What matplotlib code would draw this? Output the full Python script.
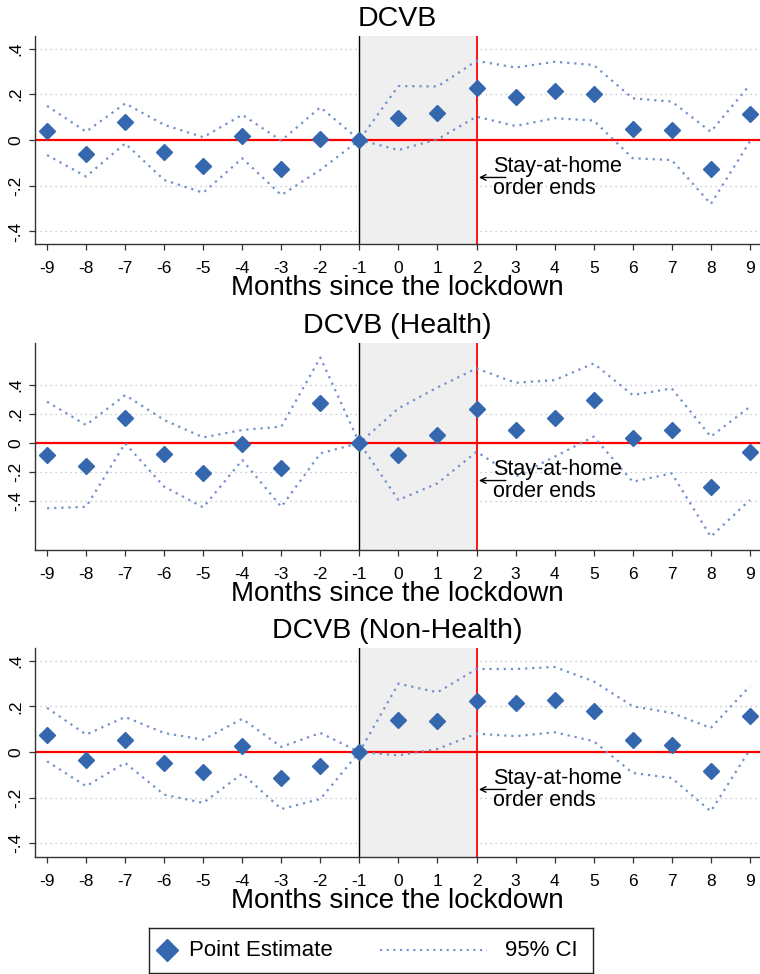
import matplotlib
matplotlib.use('Agg')
import matplotlib.pyplot as plt
import matplotlib.transforms as mtransforms

plt.rcParams['font.family'] = ['Liberation Sans', 'DejaVu Sans']

months = list(range(-9, 10))

# DCVB
est_all = [0.04, -0.063, 0.077, -0.054, -0.112, 0.016, -0.127, 0.006, 0.0, 0.098,
           0.117, 0.226, 0.19, 0.216, 0.201, 0.048, 0.042, -0.128, 0.112]
hi_all = [0.149, 0.036, 0.16, 0.066, 0.012, 0.11, -0.003, 0.143, 0.0, 0.236,
          0.234, 0.346, 0.317, 0.342, 0.328, 0.182, 0.168, 0.036, 0.241]
lo_all = [-0.066, -0.16, -0.015, -0.175, -0.231, -0.08, -0.241, -0.131, 0.0, -0.044,
          0.003, 0.102, 0.061, 0.095, 0.085, -0.08, -0.088, -0.28, -0.007]

# DCVB (Health)
est_health = [-0.083, -0.156, 0.175, -0.076, -0.205, -0.009, -0.17, 0.274, 0.0, -0.083,
              0.055, 0.234, 0.09, 0.17, 0.297, 0.034, 0.09, -0.306, -0.06]
hi_health = [0.285, 0.124, 0.331, 0.159, 0.039, 0.09, 0.113, 0.59, 0.0, 0.239,
             0.384, 0.515, 0.416, 0.434, 0.549, 0.331, 0.377, 0.044, 0.25]
lo_health = [-0.45, -0.44, -0.002, -0.301, -0.444, -0.117, -0.44, -0.071, 0.0, -0.393,
             -0.278, -0.06, -0.232, -0.094, 0.044, -0.267, -0.209, -0.646, -0.393]

# DCVB (Non-Health)
est_non = [0.072, -0.036, 0.054, -0.048, -0.089, 0.025, -0.114, -0.06, 0.0, 0.142,
           0.134, 0.225, 0.215, 0.229, 0.181, 0.054, 0.032, -0.085, 0.156]
hi_non = [0.193, 0.076, 0.153, 0.083, 0.054, 0.145, 0.022, 0.083, 0.0, 0.299,
          0.261, 0.363, 0.363, 0.372, 0.309, 0.2, 0.171, 0.105, 0.288]
lo_non = [-0.041, -0.15, -0.048, -0.187, -0.223, -0.095, -0.25, -0.206, 0.0, -0.015,
          0.013, 0.08, 0.069, 0.086, 0.047, -0.092, -0.114, -0.26, 0.01]

titles = ['DCVB', 'DCVB (Health)', 'DCVB (Non-Health)']
yticks = [-0.4, -0.2, 0, 0.2, 0.4]
ytick_labels = ['-.4', '-.2', '0', '.2', '.4']
lockdown_start = -1
order_end = 2

blue = '#3567ae'
ci_blue = '#7191c9'

fig = plt.figure(figsize=(7.6, 9.74), dpi=100)

panels = [
    (est_all, hi_all, lo_all, [0.046, 0.7495, 0.954, 0.2136], (-0.455, 0.455)),
    (est_health, hi_health, lo_health, [0.046, 0.4353, 0.954, 0.2125], (-0.738, 0.69)),
    (est_non, hi_non, lo_non, [0.046, 0.1201, 0.954, 0.2146], (-0.46, 0.455)),
]

for (est, hi, lo, rect, ylim), title in zip(panels, titles):
    ax = fig.add_axes(rect)
    ax.set_xlim(-9.31, 9.26)
    ax.set_ylim(*ylim)

    for y in yticks:
        if y != 0:
            ax.axhline(y, color='#b8bcc6', lw=0.9, ls=(0, (1, 3)), zorder=0)
    ax.axvspan(lockdown_start, order_end, color='#efefef', lw=0, zorder=1)
    ax.axhline(0, color='#ff0000', lw=1.6, zorder=2)
    ax.axvline(lockdown_start, color='black', lw=1.0, zorder=2)
    ax.axvline(order_end, color='#ff0000', lw=1.3, zorder=2)

    ax.plot(months, hi, color=ci_blue, lw=1.6, ls=(0, (1, 2.2)), zorder=3)
    ax.plot(months, lo, color=ci_blue, lw=1.6, ls=(0, (1, 2.2)), zorder=3)
    ax.plot(months, est, ls='none', marker='D', ms=8.6, color=blue,
            mec=blue, zorder=4)

    ax.set_xticks(months)
    ax.set_xticklabels([str(m) for m in months], fontsize=12.5)
    ax.set_yticks(yticks)
    ax.set_yticklabels(ytick_labels, fontsize=12.5, rotation=90, va='center')
    ax.tick_params(axis='both', length=4.5, width=0.9, color='#333333')
    ax.tick_params(axis='x', pad=8)
    ax.tick_params(axis='y', pad=4)
    for side in ['top', 'right']:
        ax.spines[side].set_visible(False)
    for side in ['left', 'bottom']:
        ax.spines[side].set_linewidth(1.0)
        ax.spines[side].set_color('#333333')

    ax.set_title(title, fontsize=20.5, pad=7)
    ax.set_xlabel('Months since the lockdown', fontsize=20, labelpad=-1)

    # annotation for the end of the stay-at-home order
    off1 = mtransforms.offset_copy(ax.transData, fig=fig, y=-22.8, units='points')
    off2 = mtransforms.offset_copy(ax.transData, fig=fig, y=-38.6, units='points')
    offa = mtransforms.offset_copy(ax.transData, fig=fig, y=-27.0, units='points')
    ax.text(2.42, 0, 'Stay-at-home', transform=off1, fontsize=15.5, va='baseline', zorder=5)
    ax.text(2.42, 0, 'order ends', transform=off2, fontsize=15.5, va='baseline', zorder=5)
    ax.annotate('', xy=(2.06, 0), xycoords=offa, xytext=(2.75, 0), textcoords=offa,
                arrowprops=dict(arrowstyle='->', lw=1.0, color='black',
                                shrinkA=0, shrinkB=0), zorder=5)

# legend box drawn as its own small axes
lax = fig.add_axes([149 / 760, 0.0015, 444 / 760, 0.0455])
lax.set_xlim(0, 444)
lax.set_ylim(0, 1)
lax.set_xticks([])
lax.set_yticks([])
for s in lax.spines.values():
    s.set_linewidth(1.0)
    s.set_color('#222222')
lax.plot([17.5], [0.5], ls='none', marker='D', ms=11.5, color=blue)
lax.text(40, 0.5, 'Point Estimate', fontsize=16, va='center')
lax.plot([231, 338], [0.5, 0.5], color=ci_blue, lw=1.5, ls=(0, (1, 2.2)))
lax.text(356, 0.5, '95% CI', fontsize=16, va='center')

fig.savefig('out.png', dpi=100)
